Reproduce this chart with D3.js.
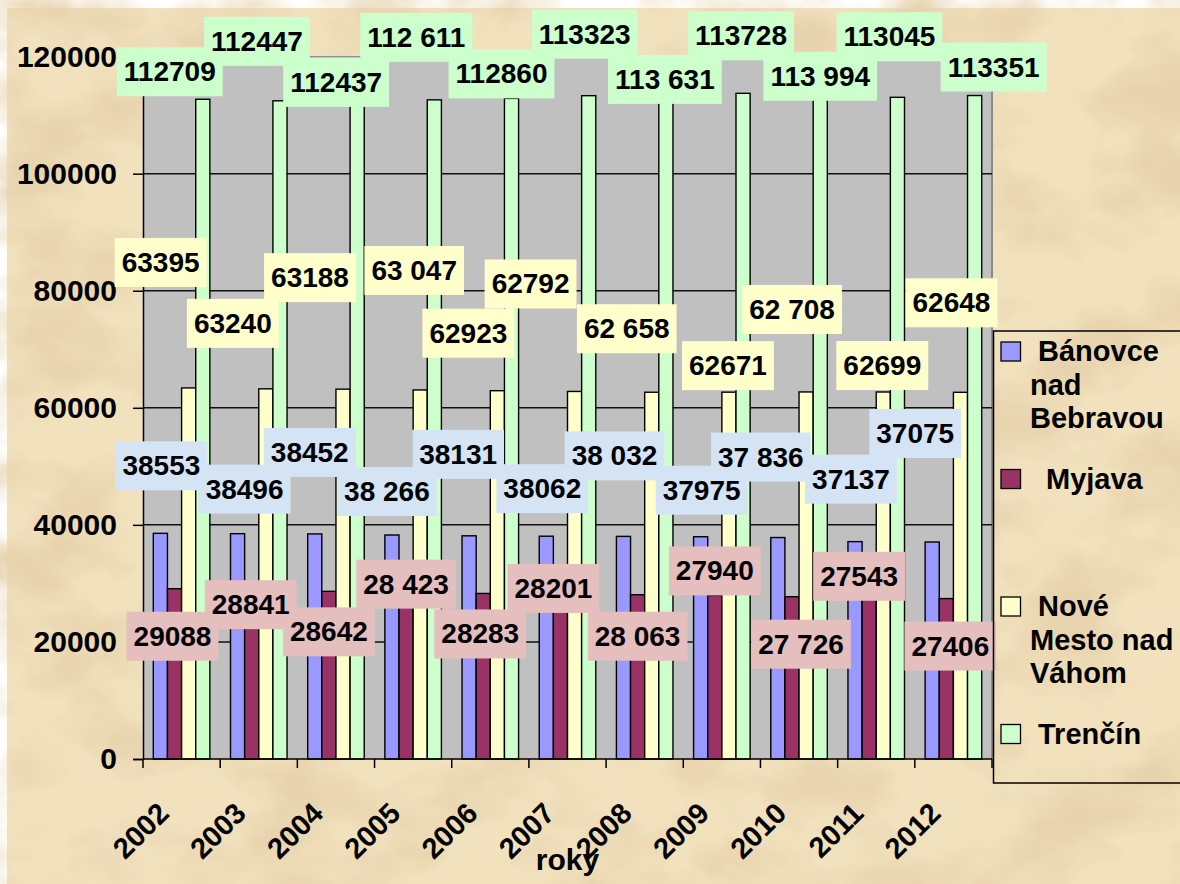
<!DOCTYPE html>
<html>
<head>
<meta charset="utf-8">
<script src="https://cdn.jsdelivr.net/npm/d3@7"></script>
<style>
    html, body { margin: 0; padding: 0; background: #fff; }
    svg { display: block; font-family: "Liberation Sans", Arial, sans-serif; font-weight: bold; }
</style>
</head>
<body>
<div id="chart"></div>
<script>
// Data
const years = ["2002", "2003", "2004", "2005", "2006", "2007", "2008", "2009", "2010", "2011", "2012"];
const seriesNames = ["Bánovce nad Bebravou", "Myjava", "Nové Mesto nad Váhom", "Trenčín"];
const banovce = [38553, 38496, 38452, 38266, 38131, 38062, 38032, 37975, 37836, 37137, 37075];
const myjava = [29088, 28841, 28642, 28423, 28283, 28201, 28063, 27940, 27726, 27543, 27406];
const noveMesto = [63395, 63240, 63188, 63047, 62923, 62792, 62658, 62671, 62708, 62699, 62648];
const trencin = [112709, 112447, 112437, 112611, 112860, 113323, 113631, 113728, 113994, 113045, 113351];
const yTicks = [0, 20000, 40000, 60000, 80000, 100000, 120000];
// years whose labels were typed with a thousands space
const spacedYears = ["2005", "2008", "2010"];
const legendLines = [["Bánovce", "nad", "Bebravou"], ["Myjava"], ["Nové", "Mesto nad", "Váhom"], ["Trenčín"]];
const axisTitle = "roky";

// Layout / style config
const CHART = {
    width: 1180,
    height: 884,
    left: 143,
    right: 992,
    top: 56.6,
    bottom: 759,
    barColors: ["#9999FF", "#993366", "#FFFFCC", "#CCFFCC"],
    labelFills: ["#D5E4F4", "#E5BEBE", "#FFFFCC", "#CCFFCC"],
    plotFill: "#C0C0C0"
};

// label text centre, offset from the top centre of its bar (px)
const LABEL_OFFSETS = [
    [[1, -68], [7, -45], [-5, -82], [-5, -44], [-11, -82], [-4, -48], [-9, -81], [1, -47], [-17, -81], [-4, -63], [-17, -109]],
    [[-2, 47], [-1, 14], [0, 40], [0, -9], [-3, 40], [-7, -6], [0, 41], [0, -25], [9, 47], [-10, -22], [4, 47]],
    [[-28, -126], [-33, -66], [-33, -112], [-6, -120], [-29, -58], [-44, -108], [-25, -64], [-1, -27], [-14, -83], [-1, -27], [-9, -90]],
    [[-33, -28], [-23, -60], [-21, -19], [-18, -63], [-10, -25], [-4, -62], [-1, -15], [-2, -58], [0, -16], [-8, -61], [19, -29]]
];

const seriesValues = [banovce, myjava, noveMesto, trencin];

const svg = d3.select('#chart')
    .append('svg')
    .attr('width', CHART.width)
    .attr('height', CHART.height);

// Parchment background
const defs = svg.append('defs');
const paper = defs.append('filter')
    .attr('id', 'paper')
    .attr('filterUnits', 'userSpaceOnUse')
    .attr('x', 0).attr('y', 0).attr('width', CHART.width).attr('height', CHART.height);
paper.append('feTurbulence')
    .attr('type', 'fractalNoise')
    .attr('baseFrequency', '0.009 0.013')
    .attr('numOctaves', 4)
    .attr('seed', 7);
paper.append('feColorMatrix')
    .attr('type', 'matrix')
    .attr('values', '0 0 0 0 0.80  0 0 0 0 0.65  0 0 0 0 0.42  2.9 0 0 0 -1.2');

svg.append('rect')
    .attr('x', 7).attr('y', 8)
    .attr('width', CHART.width - 7).attr('height', CHART.height - 8)
    .attr('fill', '#F1E1BD');
svg.append('rect')
    .attr('x', 7).attr('y', 8)
    .attr('width', CHART.width - 7).attr('height', CHART.height - 8)
    .attr('filter', 'url(#paper)');

// Scales
const x0 = d3.scaleBand()
    .domain(years)
    .range([CHART.left, CHART.right])
    .paddingInner(0)
    .paddingOuter(0);

const x1 = d3.scaleBand()
    .domain(d3.range(seriesNames.length))
    .range([0, x0.bandwidth()])
    .paddingInner(0)
    .paddingOuter(0.73);

const y = d3.scaleLinear()
    .domain([0, 120000])
    .range([CHART.bottom, CHART.top]);

// Plot area
svg.append('rect')
    .attr('x', CHART.left).attr('y', CHART.top)
    .attr('width', CHART.right - CHART.left).attr('height', CHART.bottom - CHART.top)
    .attr('fill', CHART.plotFill);
svg.append('line')
    .attr('x1', CHART.left).attr('x2', CHART.right)
    .attr('y1', CHART.top).attr('y2', CHART.top)
    .attr('stroke', '#8a8a8a').attr('stroke-width', 1);
svg.append('line')
    .attr('x1', CHART.right).attr('x2', CHART.right)
    .attr('y1', CHART.top).attr('y2', CHART.bottom)
    .attr('stroke', '#8a8a8a').attr('stroke-width', 2);

// Gridlines
svg.append('g')
    .selectAll('line')
    .data(yTicks.filter(v => v > 0 && v < 120000))
    .enter().append('line')
    .attr('x1', CHART.left).attr('x2', CHART.right)
    .attr('y1', d => y(d)).attr('y2', d => y(d))
    .attr('stroke', '#111').attr('stroke-width', 1.5);

// Bars
seriesValues.forEach((vals, s) => {
    svg.append('g')
        .selectAll('rect')
        .data(vals)
        .enter().append('rect')
        .attr('x', (d, i) => x0(years[i]) + x1(s))
        .attr('y', d => y(d))
        .attr('width', x1.bandwidth())
        .attr('height', d => y(0) - y(d))
        .attr('fill', CHART.barColors[s])
        .attr('stroke', '#000')
        .attr('stroke-width', 1.4);
});

// Y axis
const yAxis = svg.append('g')
    .attr('transform', `translate(${CHART.left},0)`)
    .call(d3.axisLeft(y).tickValues(yTicks).tickSize(10).tickPadding(16).tickFormat(d3.format('d')));
yAxis.select('.domain').attr('stroke', '#000').attr('stroke-width', 1.5);
yAxis.selectAll('.tick line').attr('stroke', '#000').attr('stroke-width', 1.5);
yAxis.selectAll('text')
    .attr('font-size', 30)
    .attr('font-family', '"Liberation Sans", Arial, sans-serif')
    .attr('font-weight', 'bold')
    .attr('fill', '#000');

// X axis
const xAxis = svg.append('g')
    .attr('transform', `translate(0,${CHART.bottom})`)
    .call(d3.axisBottom(x0).tickSize(0).tickPadding(0));
xAxis.select('.domain').remove();
xAxis.selectAll('text')
    .attr('y', 0).attr('dy', 0)
    .attr('text-anchor', 'end')
    .attr('transform', 'translate(-11,56) rotate(-45)')
    .attr('font-size', 29)
    .attr('font-family', '"Liberation Sans", Arial, sans-serif')
    .attr('font-weight', 'bold')
    .attr('fill', '#000');
xAxis.append('line')
    .attr('x1', CHART.left).attr('x2', CHART.right)
    .attr('stroke', '#000').attr('stroke-width', 1.5);
xAxis.selectAll('line.bound')
    .data(years.map(d => x0(d)).concat([CHART.right]))
    .enter().append('line')
    .attr('class', 'bound')
    .attr('x1', d => d).attr('x2', d => d)
    .attr('y1', 0).attr('y2', 9)
    .attr('stroke', '#000').attr('stroke-width', 1.5);

svg.append('text')
    .attr('x', (CHART.left + CHART.right) / 2)
    .attr('y', 870)
    .attr('text-anchor', 'middle')
    .attr('font-size', 30)
    .text(axisTitle);

// Data labels: all boxes first, then all texts on top
function formatLabel(v, year) {
    return spacedYears.includes(year) ? d3.format(',')(v).replace(',', ' ') : String(v);
}

const labelData = [];
seriesValues.forEach((vals, s) => {
    vals.forEach((v, i) => {
        labelData.push({
            s: s,
            text: formatLabel(v, years[i]),
            cx: x0(years[i]) + x1(s) + x1.bandwidth() / 2 + LABEL_OFFSETS[s][i][0],
            cy: y(v) + LABEL_OFFSETS[s][i][1]
        });
    });
});

const boxLayer = svg.append('g');
const textLayer = svg.append('g');

textLayer.selectAll('text')
    .data(labelData)
    .enter().append('text')
    .attr('x', d => d.cx)
    .attr('y', d => d.cy + 10)
    .attr('text-anchor', 'middle')
    .attr('font-size', 28)
    .text(d => d.text)
    .each(function (d) { d.w = this.getComputedTextLength() + 14; });

boxLayer.selectAll('rect')
    .data(labelData)
    .enter().append('rect')
    .attr('x', d => d.cx - d.w / 2)
    .attr('y', d => d.cy - 24)
    .attr('width', d => d.w)
    .attr('height', 49)
    .attr('fill', d => CHART.labelFills[d.s]);

// Legend
const legend = svg.append('g');
legend.append('rect')
    .attr('x', 993.5).attr('y', 331)
    .attr('width', 220).attr('height', 452)
    .attr('fill', 'none')
    .attr('stroke', '#000').attr('stroke-width', 1.5);

legendLines.forEach((lines, s) => {
    const top = 342 + s * 127.5;
    legend.append('rect')
        .attr('x', 1001).attr('y', top)
        .attr('width', 19.5).attr('height', 19)
        .attr('fill', CHART.barColors[s])
        .attr('stroke', '#000').attr('stroke-width', 1.3);
    lines.forEach((line, k) => {
        legend.append('text')
            .attr('x', k === 0 ? (s === 1 ? 1046 : 1038) : 1030)
            .attr('y', top + 19 + k * 33.5)
            .attr('font-size', 29)
            .text(line);
    });
});
</script>
</body>
</html>
